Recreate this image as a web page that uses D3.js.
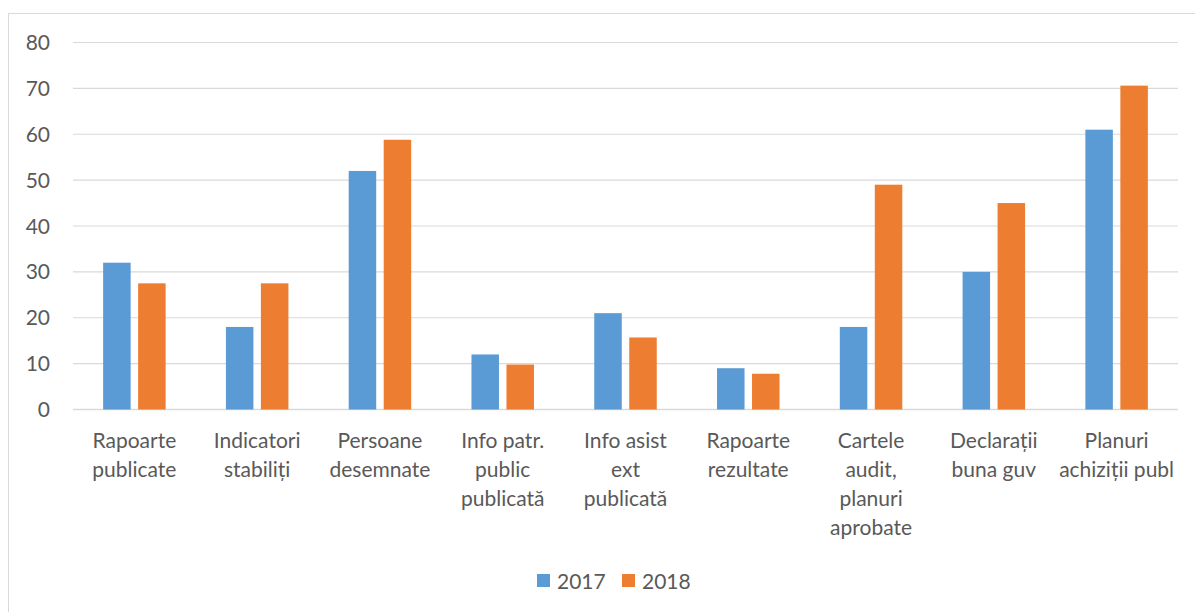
<!DOCTYPE html>
<html>
<head>
<meta charset="utf-8">
<script src="https://cdn.jsdelivr.net/npm/d3@7"></script>
<style>
  body { margin: 0; background: #fff; }
  svg text { font-family: Lato, "Noto Sans", sans-serif; fill: #595959; }
</style>
</head>
<body>
<svg id="svg" width="1195" height="612"></svg>
<script>
// categories (each entry = lines of the wrapped label)
var categories = [
  ["Rapoarte", "publicate"],
  ["Indicatori", "stabiliți"],
  ["Persoane", "desemnate"],
  ["Info patr.", "public", "publicată"],
  ["Info asist", "ext", "publicată"],
  ["Rapoarte", "rezultate"],
  ["Cartele", "audit,", "planuri", "aprobate"],
  ["Declarații", "buna guv"],
  ["Planuri", "achiziții publ"]
];
var series = ["2017", "2018"];
var colors = ["#5b9bd5", "#ed7d31"];
var values2017 = [32, 18, 52, 12, 21, 9, 18, 30, 61];
var values2018 = [27.5, 27.5, 58.8, 9.8, 15.7, 7.8, 49, 45, 70.6];
var yTicks = [0, 10, 20, 30, 40, 50, 60, 70, 80];

var svg = d3.select("#svg");

// outer chart border
svg.append("rect")
  .attr("x", 8.5).attr("y", 13.5)
  .attr("width", 1200).attr("height", 620)
  .attr("fill", "none").attr("stroke", "#d9d9d9");

var plotLeft = 73, plotRight = 1178, plotTop = 42.5, plotBottom = 409.5;

var x = d3.scaleBand().domain(d3.range(categories.length)).range([plotLeft, plotRight]);
var y = d3.scaleLinear().domain([0, 80]).range([plotBottom, plotTop]);

// gridlines
svg.append("g").selectAll("line").data(yTicks).enter()
  .append("line")
  .attr("x1", plotLeft).attr("x2", plotRight)
  .attr("y1", function(d) { return y(d); })
  .attr("y2", function(d) { return y(d); })
  .attr("stroke", "#d9d9d9")
  .attr("stroke-width", function(d) { return d === 0 ? 1.5 : 1.2; });

// y labels
svg.append("g").selectAll("text").data(yTicks).enter()
  .append("text")
  .attr("x", 50)
  .attr("y", function(d) { return y(d) + 7.5; })
  .attr("text-anchor", "end")
  .attr("font-size", 21)
  .text(function(d) { return d; });

// bars
var barW = 27.5, gap = 7.5;
var inner = d3.scaleOrdinal().domain(series).range([0, barW + gap]);
var allValues = [values2017, values2018];
series.forEach(function(s, si) {
  svg.append("g").selectAll("rect").data(allValues[si]).enter()
    .append("rect")
    .attr("x", function(d, i) {
      return x(i) + x.bandwidth() / 2 - (barW * 2 + gap) / 2 + inner(s);
    })
    .attr("y", function(d) { return y(d); })
    .attr("width", barW)
    .attr("height", function(d) { return y(0) - y(d); })
    .attr("fill", colors[si]);
});

// category labels
var cat = svg.append("g").selectAll("text").data(categories).enter()
  .append("text")
  .attr("text-anchor", "middle")
  .attr("font-size", 21);
cat.each(function(lines, i) {
  var t = d3.select(this);
  lines.forEach(function(l, j) {
    t.append("tspan")
      .attr("x", x(i) + x.bandwidth() / 2)
      .attr("y", 448 + j * 29)
      .text(l);
  });
});

// legend
var legend = svg.append("g");
var legendX = [537, 622];
series.forEach(function(s, si) {
  legend.append("rect")
    .attr("x", legendX[si]).attr("y", 574)
    .attr("width", 13).attr("height", 13)
    .attr("fill", colors[si]);
  legend.append("text")
    .attr("x", legendX[si] + 20).attr("y", 589)
    .attr("font-size", 21)
    .text(s);
});
</script>
</body>
</html>
